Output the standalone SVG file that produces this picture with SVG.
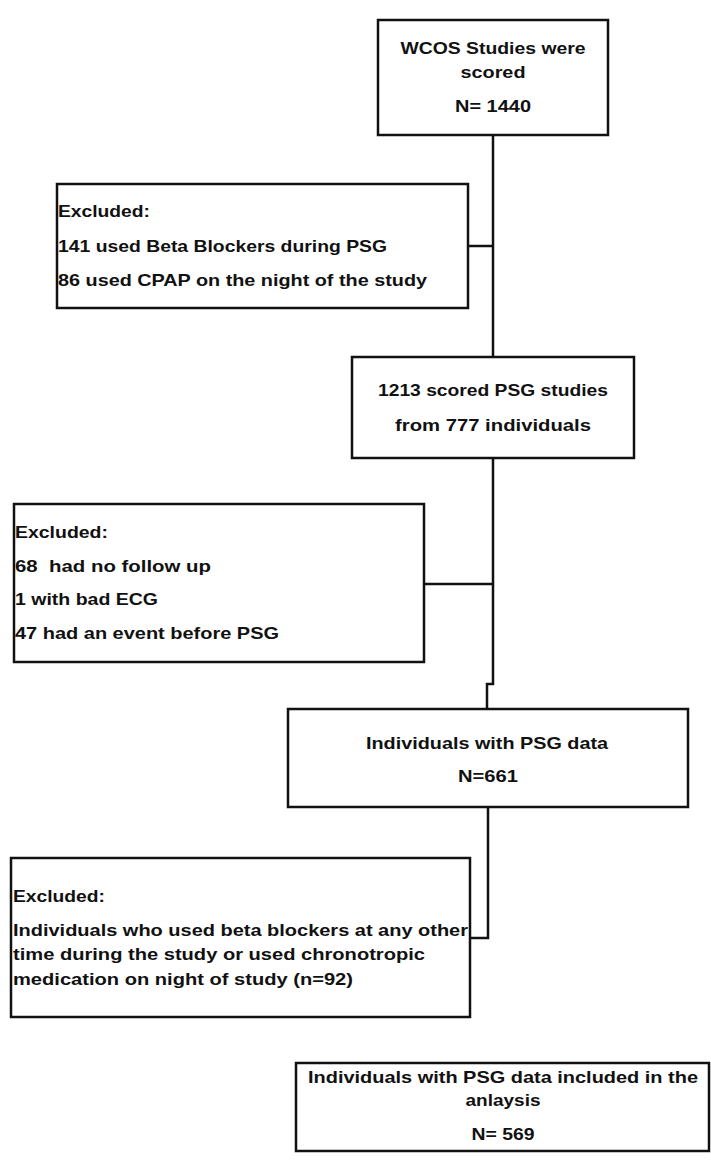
<svg xmlns="http://www.w3.org/2000/svg" width="711" height="1163" viewBox="0 0 711 1163">
<style>
.box{fill:#fff;stroke:#111;stroke-width:2.5}
.conn{fill:none;stroke:#111;stroke-width:2.5}
text{font-family:"Liberation Sans",Arial,sans-serif;font-weight:bold;font-size:17px;fill:#111}
.c{text-anchor:middle}
</style>
<rect width="711" height="1163" fill="#fff"/>
<g id="connectors">
<path class="conn" d="M493,135 V357"/>
<path class="conn" d="M468,246 H493"/>
<path class="conn" d="M493,458 V684 H487 V709"/>
<path class="conn" d="M424,584 H493"/>
<path class="conn" d="M488,808 V938 H470"/>
</g>
<g id="n1">
<rect class="box" x="378" y="20" width="230" height="115"/>
<text class="c" x="493" y="54" textLength="185" lengthAdjust="spacingAndGlyphs">WCOS Studies were</text>
<text class="c" x="493" y="78" textLength="65" lengthAdjust="spacingAndGlyphs">scored</text>
<text class="c" x="493" y="112" textLength="76" lengthAdjust="spacingAndGlyphs">N= 1440</text>
</g>
<g id="n2">
<rect class="box" x="57" y="184" width="411" height="124"/>
<text x="58" y="217" textLength="92" lengthAdjust="spacingAndGlyphs">Excluded:</text>
<text x="58" y="252" textLength="329" lengthAdjust="spacingAndGlyphs">141 used Beta Blockers during PSG</text>
<text x="58" y="286" textLength="369" lengthAdjust="spacingAndGlyphs">86 used CPAP on the night of the study</text>
</g>
<g id="n3">
<rect class="box" x="352" y="357" width="282" height="101"/>
<text class="c" x="493" y="396" textLength="230" lengthAdjust="spacingAndGlyphs">1213 scored PSG studies</text>
<text class="c" x="493" y="431" textLength="196" lengthAdjust="spacingAndGlyphs">from 777 individuals</text>
</g>
<g id="n4">
<rect class="box" x="14" y="504" width="410" height="158"/>
<text x="15" y="538" textLength="93" lengthAdjust="spacingAndGlyphs">Excluded:</text>
<text x="15" y="572" textLength="196" lengthAdjust="spacingAndGlyphs" xml:space="preserve">68  had no follow up</text>
<text x="15" y="605" textLength="143" lengthAdjust="spacingAndGlyphs">1 with bad ECG</text>
<text x="15" y="639" textLength="264" lengthAdjust="spacingAndGlyphs">47 had an event before PSG</text>
</g>
<g id="n5">
<rect class="box" x="288" y="709" width="400" height="98"/>
<text class="c" x="487" y="749" textLength="242" lengthAdjust="spacingAndGlyphs">Individuals with PSG data</text>
<text class="c" x="488" y="782" textLength="60" lengthAdjust="spacingAndGlyphs">N=661</text>
</g>
<g id="n6">
<rect class="box" x="11" y="858" width="459" height="159"/>
<text x="13" y="902" textLength="92" lengthAdjust="spacingAndGlyphs">Excluded:</text>
<text x="13" y="936" textLength="455" lengthAdjust="spacingAndGlyphs">Individuals who used beta blockers at any other</text>
<text x="13" y="960" textLength="412" lengthAdjust="spacingAndGlyphs">time during the study or used chronotropic</text>
<text x="13" y="985" textLength="340" lengthAdjust="spacingAndGlyphs">medication on night of study (n=92)</text>
</g>
<g id="n7">
<rect class="box" x="296" y="1063" width="413" height="88"/>
<text class="c" x="503" y="1083" textLength="390" lengthAdjust="spacingAndGlyphs">Individuals with PSG data included in the</text>
<text class="c" x="503" y="1106" textLength="75" lengthAdjust="spacingAndGlyphs">anlaysis</text>
<text class="c" x="503" y="1140" textLength="63" lengthAdjust="spacingAndGlyphs">N= 569</text>
</g>
</svg>
